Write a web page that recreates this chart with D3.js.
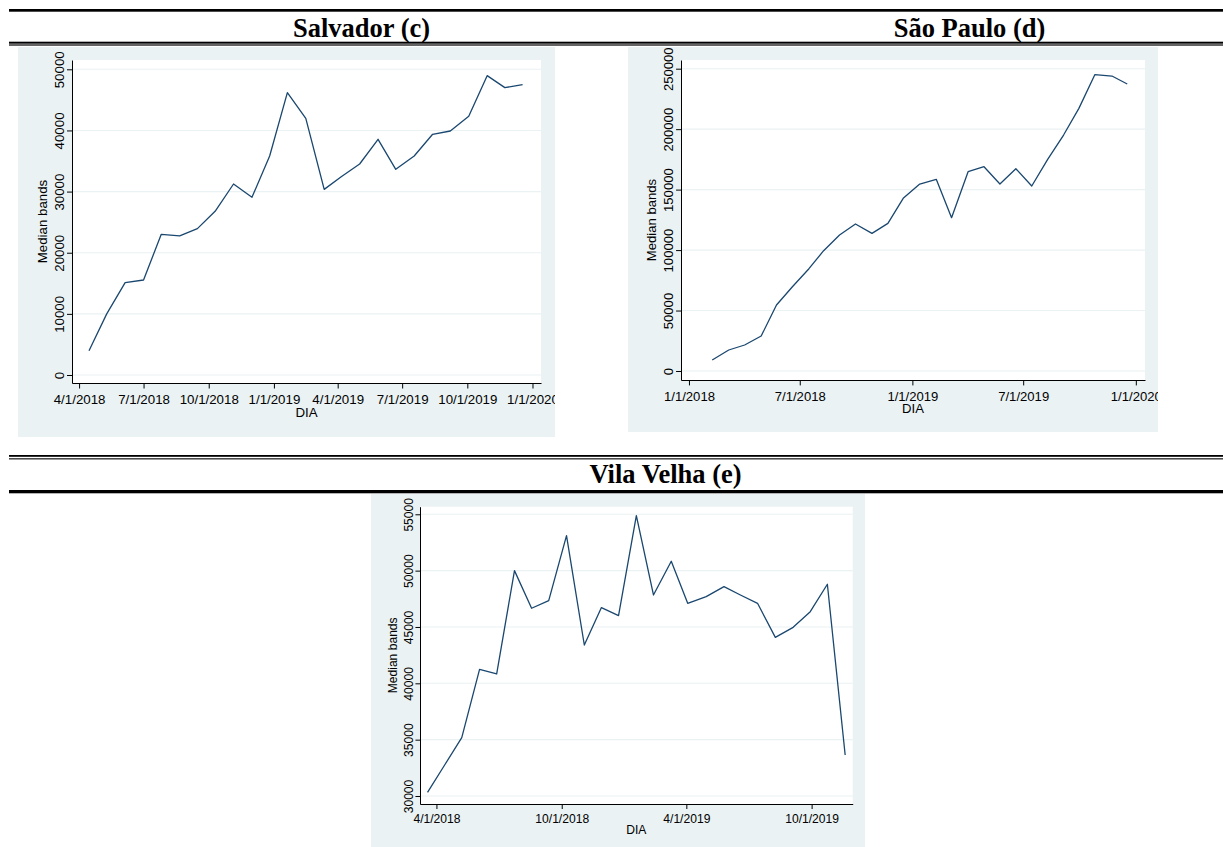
<!DOCTYPE html>
<html>
<head>
<meta charset="utf-8">
<script src="https://cdn.jsdelivr.net/npm/d3@7"></script>
<style>
  html, body { margin: 0; padding: 0; background: #ffffff; }
  svg { display: block; }
</style>
</head>
<body>
<svg id="chart" width="1223" height="847"></svg>
<script>
// ---- Salvador (c) ----
const salvadorDates = ["2018-04-15","2018-05-10","2018-06-05","2018-07-01","2018-07-26","2018-08-21",
  "2018-09-15","2018-10-10","2018-11-05","2018-12-01","2018-12-26","2019-01-20","2019-02-15",
  "2019-03-13","2019-04-06","2019-05-02","2019-05-28","2019-06-22","2019-07-18","2019-08-13",
  "2019-09-07","2019-10-03","2019-10-29","2019-11-23","2019-12-18"];
const salvadorValues = [3980, 10000, 15100, 15540, 23010, 22740, 23940, 26770, 31240, 29060,
  35820, 46180, 41980, 30360, 32440, 34510, 38550, 33640, 35820, 39370, 39910, 42310, 48960,
  47000, 47490];
const salvadorXTicks = ["2018-04-01","2018-07-01","2018-10-01","2019-01-01","2019-04-01",
  "2019-07-01","2019-10-01","2020-01-01"];
const salvadorYTicks = [0, 10000, 20000, 30000, 40000, 50000];

// ---- São Paulo (d) ----
const saoPauloDates = ["2018-02-08","2018-03-07","2018-04-02","2018-04-29","2018-05-24","2018-06-19",
  "2018-07-16","2018-08-09","2018-09-04","2018-09-30","2018-10-27","2018-11-22","2018-12-17",
  "2019-01-13","2019-02-09","2019-03-06","2019-04-02","2019-04-28","2019-05-24","2019-06-19",
  "2019-07-15","2019-08-10","2019-09-05","2019-09-30","2019-10-26","2019-11-23","2019-12-18"];
const saoPauloValues = [9100, 17370, 21500, 28940, 54580, 69700, 84600, 99500, 112460, 121550,
  113840, 122100, 142780, 154630, 158490, 126790, 164830, 168960, 154630, 167310, 152980,
  175030, 195150, 217200, 245040, 243940, 237330];
const saoPauloXTicks = ["2018-01-01","2018-07-01","2019-01-01","2019-07-01","2020-01-01"];
const saoPauloYTicks = [0, 50000, 100000, 150000, 200000, 250000];

// ---- Vila Velha (e) ----
const vilaVelhaDates = ["2018-03-19","2018-04-13","2018-05-08","2018-06-03","2018-06-28","2018-07-24",
  "2018-08-18","2018-09-12","2018-10-08","2018-11-03","2018-11-28","2018-12-23","2019-01-18",
  "2019-02-12","2019-03-10","2019-04-03","2019-04-30","2019-05-26","2019-06-19","2019-07-14",
  "2019-08-09","2019-09-04","2019-09-29","2019-10-24","2019-11-19"];
const vilaVelhaValues = [30330, 32750, 35180, 41240, 40830, 50000, 46660, 47340, 53110, 43400,
  46720, 46010, 54880, 47840, 50830, 47100, 47690, 48580, 47840, 47100, 44080, 44970, 46360,
  48790, 33640];
const vilaVelhaXTicks = ["2018-04-01","2018-10-01","2019-04-01","2019-10-01"];
const vilaVelhaYTicks = [30000, 35000, 40000, 45000, 50000, 55000];

const panelTitles = ["Salvador (c)", "São Paulo (d)", "Vila Velha (e)"];
const xAxisTitle = "DIA";
const yAxisTitle = "Median bands";

const parse = d3.utcParse("%Y-%m-%d");
const fmtDate = d3.utcFormat("%-m/%-d/%Y");

const svg = d3.select("#chart");

// ---- table rules and cell headers ----
const rules = [
  { y: 9, h: 2.7 },
  { y: 41.7, h: 2 }, { y: 44.4, h: 1.2 },
  { y: 455, h: 1.8 }, { y: 458.3, h: 1.1 },
  { y: 490, h: 3.3 }
];
svg.selectAll("rect.rule").data(rules).join("rect")
  .attr("class", "rule")
  .attr("x", 9).attr("width", 1223 - 9)
  .attr("y", d => d.y).attr("height", d => d.h)
  .attr("fill", "#000");

const titlePos = [
  { x: 361.5, y: 36.7 },
  { x: 969.5, y: 36.7 },
  { x: 665.5, y: 483.3 }
];
svg.selectAll("text.cell-title").data(panelTitles).join("text")
  .attr("class", "cell-title")
  .attr("x", (d, i) => titlePos[i].x)
  .attr("y", (d, i) => titlePos[i].y)
  .attr("text-anchor", "middle")
  .style("font-family", "'Liberation Serif', 'Times New Roman', serif")
  .style("font-weight", "bold")
  .style("font-size", "26.5px")
  .attr("fill", "#000")
  .text(d => d);

// ---- panel layouts ----
const panels = [
  {
    id: "salvador", dates: salvadorDates, values: salvadorValues,
    xTicks: salvadorXTicks, yTicks: salvadorYTicks,
    bg: { x: 18, y: 47, w: 537, h: 390 },
    plot: { l: 72, t: 60, r: 541, b: 383 },
    xDomain: ["2018-03-22", "2020-01-13"], yDomain: [-1308, 51521],
    font: 13.3
  },
  {
    id: "saopaulo", dates: saoPauloDates, values: saoPauloValues,
    xTicks: saoPauloXTicks, yTicks: saoPauloYTicks,
    bg: { x: 628, y: 47, w: 530, h: 385 },
    plot: { l: 681, t: 60, r: 1145, b: 380 },
    xDomain: ["2017-12-19", "2020-01-16"], yDomain: [-7443, 257195],
    font: 13.1
  },
  {
    id: "vilavelha", dates: vilaVelhaDates, values: vilaVelhaValues,
    xTicks: vilaVelhaXTicks, yTicks: vilaVelhaYTicks,
    bg: { x: 371, y: 494, w: 494, h: 353 },
    plot: { l: 420, t: 506.7, r: 852.7, b: 804 },
    xDomain: ["2018-03-08", "2019-11-30"], yDomain: [29290, 55674],
    font: 12.1
  }
];

const defs = svg.append("defs");

panels.forEach(p => {
  const scale = p.font / 13.3;

  defs.append("clipPath").attr("id", "clip-" + p.id)
    .append("rect")
    .attr("x", p.bg.x).attr("y", p.bg.y)
    .attr("width", p.bg.w).attr("height", p.bg.h);

  const g = svg.append("g").attr("clip-path", `url(#clip-${p.id})`)
    .style("font-family", "'Liberation Sans', Arial, Helvetica, sans-serif");

  // outer graph region
  g.append("rect")
    .attr("x", p.bg.x).attr("y", p.bg.y)
    .attr("width", p.bg.w).attr("height", p.bg.h)
    .attr("fill", "#eaf2f3");

  // plot region
  g.append("rect")
    .attr("x", p.plot.l).attr("y", p.plot.t)
    .attr("width", p.plot.r - p.plot.l).attr("height", p.plot.b - p.plot.t)
    .attr("fill", "#ffffff");

  const x = d3.scaleUtc()
    .domain(p.xDomain.map(parse))
    .range([p.plot.l, p.plot.r]);
  const y = d3.scaleLinear()
    .domain(p.yDomain)
    .range([p.plot.b, p.plot.t]);

  // horizontal grid
  g.append("g").selectAll("line").data(p.yTicks).join("line")
    .attr("x1", p.plot.l).attr("x2", p.plot.r)
    .attr("y1", d => y(d)).attr("y2", d => y(d))
    .attr("stroke", "#eaf2f3").attr("stroke-width", 1.1);

  // data line
  const series = p.dates.map((d, i) => ({ date: parse(d), value: p.values[i] }));
  g.append("path").datum(series)
    .attr("fill", "none")
    .attr("stroke", "#1a476f")
    .attr("stroke-width", 1.3)
    .attr("stroke-linejoin", "round")
    .attr("d", d3.line().x(d => x(d.date)).y(d => y(d.value)));

  // y axis
  const yAxis = g.append("g")
    .attr("transform", `translate(${p.plot.l},0)`)
    .call(d3.axisLeft(y).tickValues(p.yTicks).tickSize(5 * scale).tickSizeOuter(0)
      .tickFormat(d3.format("d")));
  yAxis.selectAll("path.domain, line").attr("stroke", "#000").attr("stroke-width", 1);
  yAxis.selectAll("text")
    .attr("x", null).attr("dy", null)
    .attr("transform", `translate(${-8 * scale},0) rotate(-90)`)
    .attr("text-anchor", "middle")
    .attr("fill", "#000")
    .style("font-size", p.font + "px");
  yAxis.attr("font-family", null).attr("font-size", null);

  // x axis
  const xAxis = g.append("g")
    .attr("transform", `translate(0,${p.plot.b})`)
    .call(d3.axisBottom(x).tickValues(p.xTicks.map(parse)).tickSize(5.5 * scale).tickSizeOuter(0)
      .tickFormat(fmtDate));
  xAxis.selectAll("path.domain, line").attr("stroke", "#000").attr("stroke-width", 1);
  xAxis.selectAll("text")
    .attr("y", 21 * scale).attr("dy", null)
    .attr("fill", "#000")
    .style("font-size", p.font + "px");
  xAxis.attr("font-family", null).attr("font-size", null);

  // axis titles
  g.append("text")
    .attr("x", (p.plot.l + p.plot.r) / 2)
    .attr("y", p.plot.b + 33.5 * scale)
    .attr("text-anchor", "middle")
    .attr("fill", "#000")
    .style("font-size", p.font + "px")
    .text(xAxisTitle);

  g.append("text")
    .attr("transform", `translate(${p.plot.l - 25.5 * scale},${(p.plot.t + p.plot.b) / 2}) rotate(-90)`)
    .attr("text-anchor", "middle")
    .attr("fill", "#000")
    .style("font-size", p.font + "px")
    .text(yAxisTitle);
});
</script>
</body>
</html>
